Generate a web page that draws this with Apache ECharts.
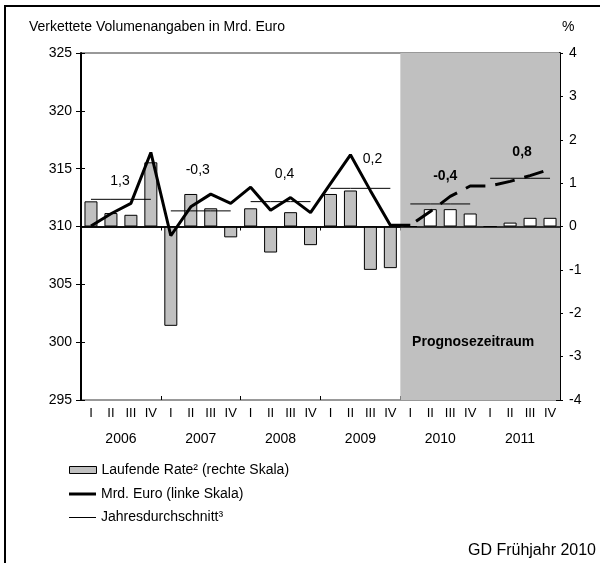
<!DOCTYPE html>
<html>
<head>
<meta charset="utf-8">
<script src="https://cdn.jsdelivr.net/npm/echarts@6/dist/echarts.min.js"></script>
<style>
  html, body { margin: 0; padding: 0; background: #fff; }
  #chart { width: 600px; height: 563px; }
</style>
</head>
<body>
<div id="chart"></div>
<script>
var years = ['2006', '2007', '2008', '2009', '2010', '2011'];
var quarters = ['I', 'II', 'III', 'IV'];

// laufende Rate in % (rechte Skala)
var rate = [0.58, 0.31, 0.27, 1.48, -2.29, 0.75, 0.42, -0.25,
            0.42, -0.6, 0.33, -0.43, 0.75, 0.83, -1.0, -0.96,
            0, 0.4, 0.4, 0.3, 0, 0.09, 0.2, 0.2];
// Mrd. Euro (linke Skala), Ist-Werte bis 2010 I
var level = [310.05, 311.1, 312.0, 316.4, 309.2, 311.7, 312.8, 312.0,
             313.4, 311.4, 312.5, 311.2, 313.7, 316.2, 313.1, 310.1, 310.1];
// Prognose ab 2010 I
var forecast = [310.1, 311.3, 312.6, 313.5, 313.5, 313.9, 314.4, 314.95];
var yearAvg = [312.35, 311.35, 312.15, 313.3, 311.95, 314.17];
var yearRate = ['1,3', '-0,3', '0,4', '0,2', '-0,4', '0,8'];
var firstForecast = 16;

var font = 'Liberation Sans, Arial, sans-serif';

var categories = [];
years.forEach(function (y) {
    quarters.forEach(function (q) { categories.push(y + ' ' + q); });
});

var barData = rate.map(function (v, i) {
    if (i < firstForecast) return v;
    return { value: v, itemStyle: { color: '#fff' } };
});

var levelData = categories.map(function (c, i) {
    return i < level.length ? level[i] : '-';
});
var forecastData = categories.map(function (c, i) {
    var j = i - firstForecast;
    return j >= 0 ? forecast[j] : '-';
});

// label offsets for the annual rates (px, relative to 2nd quarter point)
var rateOffsets = [[9, -18], [7, -41], [14, -27], [22, -29], [15, -28], [12, -26]];

var series = [];

// background for the forecast period (on a hidden value axis, so it covers whole quarters)
series.push({
    type: 'line',
    xAxisIndex: 3,
    data: [],
    z: 0,
    silent: true,
    markArea: {
        silent: true,
        itemStyle: { color: '#c0c0c0' },
        label: {
            show: true, position: 'insideBottom', distance: 51, offset: [-7, 0],
            color: '#000', fontFamily: font, fontSize: 14, fontWeight: 'bold'
        },
        data: [[{ name: 'Prognosezeitraum', xAxis: firstForecast },
                { xAxis: categories.length }]]
    }
});

series.push({
    name: 'Laufende Rate² (rechte Skala)',
    type: 'bar',
    yAxisIndex: 1,
    barWidth: 13,
    itemStyle: { color: '#c0c0c0', borderColor: '#000', borderWidth: 1 },
    data: barData,
    markLine: {
        silent: true,
        symbol: 'none',
        label: { show: false },
        lineStyle: { color: '#000', width: 1.5, type: 'solid' },
        data: [{ yAxis: 0 }]
    }
});

yearAvg.forEach(function (avg, k) {
    var d = categories.map(function (c, i) {
        return Math.floor(i / 4) === k ? avg : '-';
    });
    series.push({
        name: 'Jahresdurchschnitt³',
        type: 'line',
        symbol: 'none',
        lineStyle: { color: '#000', width: 1 },
        itemStyle: { color: '#000' },
        data: d,
        markPoint: {
            symbol: 'circle',
            symbolSize: 0,
            silent: true,
            label: {
                show: true,
                position: 'inside',
                formatter: yearRate[k],
                offset: rateOffsets[k],
                color: '#000',
                fontFamily: font,
                fontSize: 14,
                fontWeight: k >= 4 ? 'bold' : 'normal'
            },
            data: [{ coord: [categories[k * 4 + 1], avg] }]
        }
    });
});

series.push({
    name: 'Mrd. Euro (linke Skala)',
    type: 'line',
    symbol: 'none',
    lineStyle: { color: '#000', width: 3 },
    itemStyle: { color: '#000' },
    data: levelData
});

series.push({
    name: 'Prognose',
    type: 'line',
    symbol: 'none',
    lineStyle: { color: '#000', width: 3, type: [20, 10], dashOffset: 23 },
    itemStyle: { color: '#000' },
    data: forecastData
});

var legendText = { fontFamily: font, fontSize: 14, color: '#000' };

var chart = echarts.init(document.getElementById('chart'));

chart.setOption({
    animation: false,
    backgroundColor: '#fff',
    textStyle: { fontFamily: font },
    title: {
        text: 'Verkettete Volumenangaben in Mrd. Euro',
        left: 29, top: 20, padding: 0,
        textStyle: { fontFamily: font, fontSize: 14, fontWeight: 'normal', color: '#000' }
    },
    grid: {
        left: 81, right: 40, top: 53, bottom: 163,
        show: true, borderColor: '#333', borderWidth: 1, backgroundColor: 'transparent'
    },
    legend: [{
        left: 69, top: 463, padding: 0,
        itemWidth: 27, itemHeight: 7, selectedMode: false,
        textStyle: legendText,
        data: [{ name: 'Laufende Rate² (rechte Skala)', icon: 'rect',
                 itemStyle: { color: '#c0c0c0', borderColor: '#000', borderWidth: 1 } }]
    }, {
        left: 69, top: 487, padding: 0,
        itemWidth: 27, itemHeight: 3, selectedMode: false,
        textStyle: legendText,
        data: [{ name: 'Mrd. Euro (linke Skala)', icon: 'rect' }]
    }, {
        left: 69, top: 510.5, padding: 0,
        itemWidth: 27, itemHeight: 1, selectedMode: false,
        textStyle: legendText,
        data: [{ name: 'Jahresdurchschnitt³', icon: 'rect' }]
    }],
    xAxis: [{
        type: 'category',
        data: categories,
        position: 'bottom',
        axisLine: { lineStyle: { color: '#000', width: 1.5 } },
        axisTick: { show: false },
        axisLabel: {
            margin: 7, color: '#000', fontFamily: font, fontSize: 13, interval: 0,
            formatter: function (v) { return v.split(' ')[1]; }
        }
    }, {
        type: 'category',
        data: years,
        position: 'bottom',
        axisLine: { show: false },
        axisTick: { show: true, length: 4, lineStyle: { color: '#000' } },
        axisLabel: { margin: 32, color: '#000', fontFamily: font, fontSize: 14 }
    }, {
        type: 'category',
        data: years,
        position: 'bottom',
        axisLine: { show: false },
        axisTick: { show: true, inside: true, length: 4, lineStyle: { color: '#000' } },
        axisLabel: { show: false }
    }, {
        type: 'value',
        min: 0, max: categories.length,
        show: false
    }],
    yAxis: [{
        type: 'value', min: 295, max: 325, interval: 5, position: 'left',
        axisLine: { show: true, lineStyle: { color: '#000', width: 2 } },
        axisTick: { show: true, length: 5, lineStyle: { color: '#000' } },
        axisLabel: { margin: 9, color: '#000', fontFamily: font, fontSize: 14 },
        splitLine: { show: false }
    }, {
        type: 'value', min: -4, max: 4, interval: 1, position: 'right',
        axisLine: { show: true, lineStyle: { color: '#000', width: 2 } },
        axisTick: { show: true, length: 3, lineStyle: { color: '#000' } },
        axisLabel: { margin: 9, color: '#000', fontFamily: font, fontSize: 14 },
        splitLine: { show: false }
    }, {
        type: 'value', min: 295, max: 325, interval: 5, position: 'left',
        axisLine: { show: false },
        axisTick: { show: true, inside: true, length: 4, lineStyle: { color: '#000' } },
        axisLabel: { show: false },
        splitLine: { show: false }
    }, {
        type: 'value', min: -4, max: 4, interval: 1, position: 'right',
        axisLine: { show: false },
        axisTick: { show: true, inside: true, length: 4, lineStyle: { color: '#000' } },
        axisLabel: { show: false },
        splitLine: { show: false }
    }],
    graphic: [{
        type: 'rect', silent: true, z: 100,
        shape: { x: 5, y: 6, width: 700, height: 700 },
        style: { fill: 'none', stroke: '#000', lineWidth: 2 }
    }, {
        type: 'text', left: 562, top: 20,
        style: { text: '%', font: '14px ' + font, fill: '#000' }
    }, {
        type: 'text', right: 4, top: 543,
        style: { text: 'GD Frühjahr 2010', font: '16px ' + font, fill: '#000' }
    }],
    series: series
});
</script>
</body>
</html>
